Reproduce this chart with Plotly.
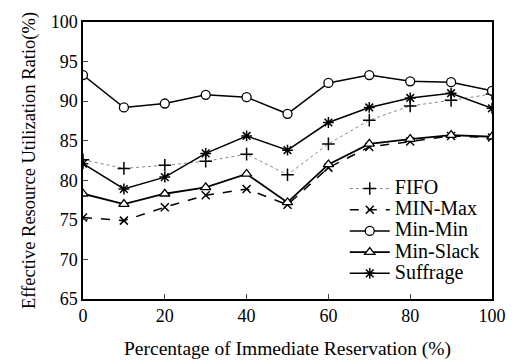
import plotly.graph_objects as go

x_vals = [0, 10, 20, 30, 40, 50, 60, 70, 80, 90, 100]
fifo = [82.6, 81.5, 81.9, 82.4, 83.3, 80.7, 84.6, 87.6, 89.4, 90.1, 90.9]
min_max = [75.3, 74.9, 76.6, 78.1, 78.9, 76.9, 81.6, 84.2, 84.9, 85.6, 85.4]
min_min = [93.3, 89.2, 89.7, 90.8, 90.5, 88.4, 92.3, 93.3, 92.5, 92.4, 91.3]
min_slack = [78.3, 77.0, 78.3, 79.1, 80.8, 77.2, 82.0, 84.6, 85.2, 85.7, 85.5]
suffrage = [82.1, 78.9, 80.4, 83.4, 85.6, 83.8, 87.3, 89.2, 90.4, 91.0, 89.1]
series_names = ["FIFO", "MIN-Max", "Min-Min", "Min-Slack", "Suffrage"]

x_ticks = [0, 20, 40, 60, 80, 100]
y_ticks = [65, 70, 75, 80, 85, 90, 95, 100]

FONT = "Liberation Serif"


def lg(name):
    return "<span style='font-size:20px'>" + name + "</span>"


fig = go.Figure()
fig.add_trace(go.Scatter(x=x_vals, y=fifo, name=lg(series_names[0]), mode="lines+markers",
                         line=dict(color="#888888", width=1, dash="dot"),
                         marker=dict(symbol="cross-thin", size=9, color="black",
                                     line=dict(color="black", width=1.5))))
fig.add_trace(go.Scatter(x=x_vals, y=min_max, name=lg(series_names[1]), mode="lines+markers",
                         line=dict(color="black", width=1.5, dash="dash"),
                         marker=dict(symbol="x-thin", size=8, color="black",
                                     line=dict(color="black", width=1.5))))
fig.add_trace(go.Scatter(x=x_vals, y=min_min, name=lg(series_names[2]), mode="lines+markers",
                         line=dict(color="black", width=1.5),
                         marker=dict(symbol="circle", size=9, color="white",
                                     line=dict(color="black", width=1.3))))
fig.add_trace(go.Scatter(x=x_vals, y=min_slack, name=lg(series_names[3]), mode="lines+markers",
                         line=dict(color="black", width=1.8),
                         marker=dict(symbol="triangle-up", size=9, color="white",
                                     line=dict(color="black", width=1.3))))
fig.add_trace(go.Scatter(x=x_vals, y=suffrage, name=lg(series_names[4]), mode="lines+markers",
                         line=dict(color="black", width=1.5),
                         marker=dict(symbol="asterisk-open", size=9, color="black",
                                     line=dict(color="black", width=1.5))))

fig.update_layout(
    width=523, height=363,
    margin=dict(l=83, r=31, t=22, b=64),
    paper_bgcolor="white", plot_bgcolor="white",
    font=dict(family=FONT, size=18, color="black"),
    showlegend=True,
    legend=dict(x=0.64, y=0.455, xanchor="left", yanchor="top",
                bgcolor="rgba(0,0,0,0)", font=dict(family=FONT, size=14),
                tracegroupgap=0, itemwidth=40),
    xaxis=dict(range=[0, 100], tickvals=x_ticks, ticks="inside", ticklen=5,
               showline=True, linecolor="black", linewidth=1.5, mirror=True,
               showgrid=False, zeroline=False, automargin=False,
               tickfont=dict(family=FONT, size=18),
               title=dict(text="Percentage of Immediate Reservation (%)", standoff=16,
                          font=dict(family=FONT, size=19.5))),
    yaxis=dict(range=[65, 100], tickvals=y_ticks, ticks="inside", ticklen=5,
               showline=True, linecolor="black", linewidth=1.5, mirror=True,
               showgrid=False, zeroline=False, automargin=False,
               tickfont=dict(family=FONT, size=18),
               title=dict(text="Effective Resource Utilization Ratio(%)", standoff=10,
                          font=dict(family=FONT, size=18.5))),
)

fig.write_html("out.html")
